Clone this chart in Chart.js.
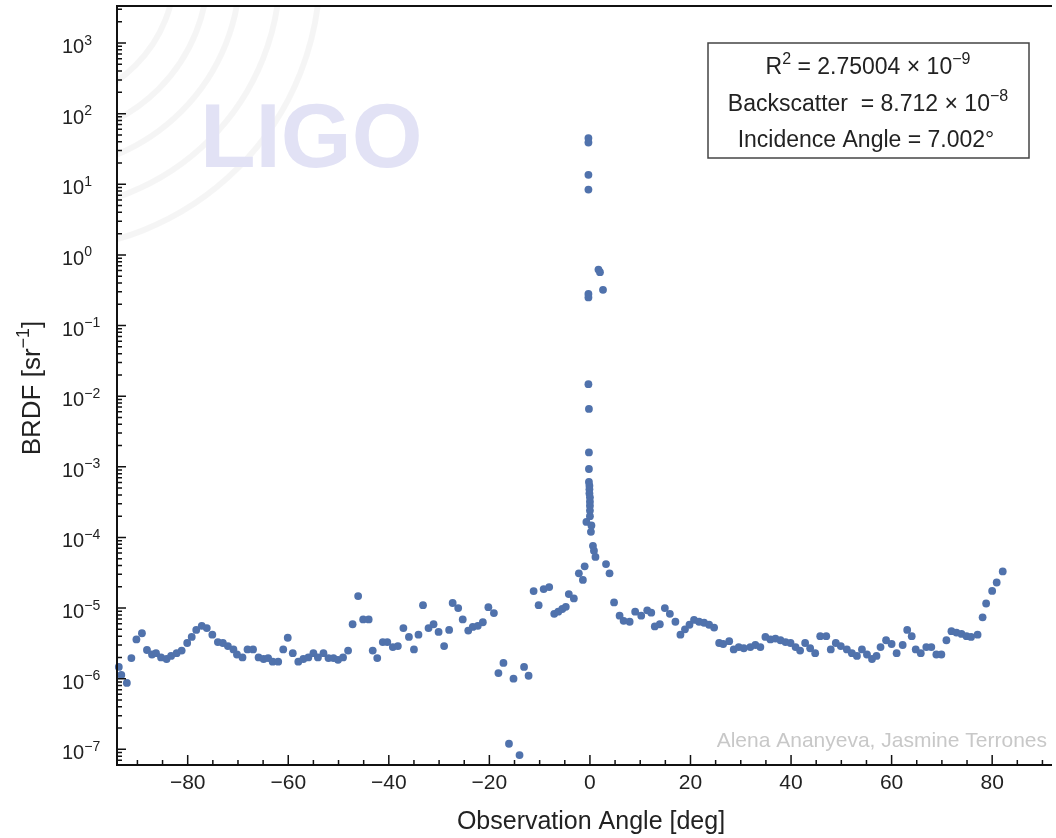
<!DOCTYPE html>
<html>
<head>
<meta charset="utf-8">
<script src="https://cdn.jsdelivr.net/npm/chart.js@4.4.1/dist/chart.umd.min.js"></script>
<style>
  body { margin: 0; background: #ffffff; }
  canvas { display: block; }
</style>
</head>
<body>
<canvas id="brdfGraf" width="1056" height="838"></canvas>
<script>
// Observation angle [deg] and BRDF [1/sr]
const vinklerVenstre = [-93.7, -93.2, -92.1, -91.2, -90.2, -89.1, -88.1, -87.1, -86.3, -85.3,
    -84.2, -83.3, -82.2, -81.2, -80.1, -79.2, -78.3, -77.2, -76.2, -75.1,
    -74.0, -73.0, -72.0, -70.9, -70.2, -69.1, -68.1, -67.0, -65.9, -64.9,
    -64.0, -63.1, -62.0, -61.0, -60.1, -59.1, -58.0, -57.0, -56.0, -55.0,
    -54.1, -53.0, -52.0, -51.0, -50.1, -49.1, -48.1, -47.2, -46.1, -45.1,
    -44.0, -43.2, -42.3, -41.2, -40.3, -39.2, -38.2, -37.1, -36.0, -35.0,
    -34.1, -33.2, -32.1, -31.1, -30.1, -29.0, -28.0, -27.3, -26.2, -25.3,
    -24.2, -23.3, -22.3, -21.3, -20.2, -19.1, -18.2, -17.2, -16.1, -15.2,
    -14.0, -13.1, -12.2, -11.2, -10.2, -9.2, -8.1, -7.1, -6.3, -5.5,
    -4.8, -4.2, -3.2, -2.2, -1.4, -1.05];
const brdfVenstre = [1.47e-6, 1.13e-6, 8.7e-7, 1.96e-6, 3.6e-6, 4.4e-6, 2.55e-6, 2.2e-6, 2.3e-6, 2.0e-6,
    1.9e-6, 2.1e-6, 2.3e-6, 2.5e-6, 3.2e-6, 3.9e-6, 4.9e-6, 5.6e-6, 5.2e-6, 4.2e-6,
    3.3e-6, 3.2e-6, 2.9e-6, 2.6e-6, 2.2e-6, 2.0e-6, 2.6e-6, 2.6e-6, 2.0e-6, 1.9e-6,
    1.96e-6, 1.74e-6, 1.74e-6, 2.6e-6, 3.8e-6, 2.3e-6, 1.74e-6, 1.9e-6, 2.0e-6, 2.3e-6,
    2.0e-6, 2.3e-6, 1.96e-6, 1.96e-6, 1.85e-6, 2.0e-6, 2.5e-6, 5.9e-6, 1.48e-5, 6.9e-6,
    6.9e-6, 2.5e-6, 1.96e-6, 3.3e-6, 3.3e-6, 2.8e-6, 2.9e-6, 5.2e-6, 3.9e-6, 2.6e-6,
    4.2e-6, 1.1e-5, 5.2e-6, 5.9e-6, 4.6e-6, 2.9e-6, 4.9e-6, 1.18e-5, 1.0e-5, 6.9e-6,
    4.8e-6, 5.4e-6, 5.6e-6, 6.3e-6, 1.03e-5, 8.5e-6, 1.2e-6, 1.67e-6, 1.2e-7, 1.0e-6,
    8.3e-8, 1.47e-6, 1.1e-6, 1.74e-5, 1.1e-5, 1.86e-5, 1.98e-5, 8.3e-6, 8.9e-6, 9.7e-6,
    1.04e-5, 1.58e-5, 1.37e-5, 3.1e-5, 2.5e-5, 3.9e-5];

// specular peak
const vinklerTopp = [-0.3, -0.3, -0.3, -0.3, 1.7, 2.0, -0.3, -0.3, 2.6, -0.3,
    -0.2, -0.2, -0.2, -0.2, -0.1, -0.1, -0.1, 0.0, 0.0, 0.0,
    0.0, 0.0, -0.7, 0.3, 0.2, 0.6, 0.8, 1.1];
const brdfTopp = [45, 39, 13.6, 8.4, 0.62, 0.57, 0.28, 0.25, 0.32, 0.0148,
    6.6e-3, 1.6e-3, 9.3e-4, 6.1e-4, 5.4e-4, 4.8e-4, 4.2e-4, 3.7e-4, 3.2e-4, 2.8e-4,
    2.4e-4, 2.0e-4, 1.66e-4, 1.48e-4, 1.2e-4, 7.6e-5, 6.5e-5, 5.3e-5];

const vinklerHoyre = [3.2, 3.9, 4.8, 5.9, 6.7, 7.9, 9.0, 10.2, 11.4, 12.2,
    12.9, 13.9, 14.9, 15.9, 17.0, 18.0, 18.9, 19.8, 20.7, 21.7,
    22.7, 23.7, 24.7, 25.7, 26.5, 27.7, 28.6, 29.6, 30.6, 31.9,
    32.9, 33.9, 34.9, 35.9, 36.9, 37.9, 38.9, 39.9, 40.9, 41.8,
    42.8, 43.8, 44.8, 45.8, 47.0, 47.9, 48.9, 49.9, 51.1, 52.1,
    53.1, 54.1, 55.1, 56.1, 57.0, 57.8, 58.9, 60.0, 61.0, 62.2,
    63.1, 64.0, 64.8, 65.8, 66.9, 67.9, 68.9, 69.9, 70.9, 71.9,
    72.9, 73.9, 74.9, 75.8, 77.1, 78.1, 78.8, 80.0, 80.9, 82.1];
const brdfHoyre = [4.2e-5, 3.1e-5, 1.2e-5, 7.8e-6, 6.6e-6, 6.4e-6, 8.9e-6, 7.8e-6, 9.3e-6, 8.6e-6,
    5.5e-6, 5.9e-6, 1.0e-5, 8.3e-6, 6.4e-6, 4.2e-6, 5.0e-6, 5.8e-6, 6.8e-6, 6.4e-6,
    6.2e-6, 5.8e-6, 5.3e-6, 3.2e-6, 3.1e-6, 3.4e-6, 2.6e-6, 2.8e-6, 2.7e-6, 2.8e-6,
    3.0e-6, 2.8e-6, 3.9e-6, 3.6e-6, 3.7e-6, 3.5e-6, 3.3e-6, 3.2e-6, 2.8e-6, 2.5e-6,
    3.2e-6, 2.7e-6, 2.3e-6, 4.0e-6, 4.0e-6, 2.6e-6, 3.2e-6, 2.9e-6, 2.6e-6, 2.3e-6,
    2.1e-6, 2.6e-6, 2.2e-6, 1.9e-6, 2.1e-6, 2.8e-6, 3.5e-6, 3.1e-6, 2.3e-6, 3.0e-6,
    4.9e-6, 4.0e-6, 2.6e-6, 2.3e-6, 2.8e-6, 2.8e-6, 2.2e-6, 2.2e-6, 3.5e-6, 4.7e-6,
    4.5e-6, 4.3e-6, 4.0e-6, 3.9e-6, 4.2e-6, 7.4e-6, 1.16e-5, 1.75e-5, 2.3e-5, 3.3e-5];

// tick labels
const xTikkVerdier = [-80, -60, -40, -20, 0, 20, 40, 60, 80];
const xTikkTekst = ['\u221280', '\u221260', '\u221240', '\u221220', '0', '20', '40', '60', '80'];
const yEksponenter = [3, 2, 1, 0, -1, -2, -3, -4, -5, -6, -7];

const xMin = -94.06, xMax = 91.9;
const yMin = 6.0e-8, yMax = 3340;

const font = '"Liberation Sans", Arial, sans-serif';
const punktFarge = '#5072ac';

function lagPunkter(xs, ys) {
    return xs.map((x, i) => ({ x: x, y: ys[i] }));
}
const allePunkter = lagPunkter(vinklerVenstre, brdfVenstre)
    .concat(lagPunkter(vinklerTopp, brdfTopp))
    .concat(lagPunkter(vinklerHoyre, brdfHoyre));

function minus(n) {
    return n < 0 ? '\u2212' + Math.abs(n) : String(n);
}

// text with superscripts: deler = [[tekst, erHevet], ...]
function tegnTekst(ctx, deler, x, y, size, align) {
    const sup = Math.round(size * 0.68);
    let total = 0;
    deler.forEach(d => {
        ctx.font = (d[1] ? sup : size) + 'px ' + font;
        total += ctx.measureText(d[0]).width;
    });
    let cx = align === 'center' ? x - total / 2 : (align === 'right' ? x - total : x);
    ctx.textAlign = 'left';
    ctx.textBaseline = 'alphabetic';
    deler.forEach(d => {
        ctx.font = (d[1] ? sup : size) + 'px ' + font;
        ctx.fillText(d[0], cx, d[1] ? y - size * 0.42 : y);
        cx += ctx.measureText(d[0]).width;
    });
}

const bakgrunn = {
    id: 'bakgrunn',
    beforeDatasetsDraw(chart) {
        const ctx = chart.ctx;
        const a = chart.chartArea;
        ctx.save();
        ctx.beginPath();
        ctx.rect(a.left, a.top, a.right - a.left, a.bottom - a.top);
        ctx.clip();
        // faint logo arcs
        ctx.strokeStyle = 'rgba(0,0,0,0.04)';
        ctx.lineWidth = 6;
        [135, 168, 200, 240, 280].forEach(r => {
            ctx.beginPath();
            ctx.arc(40, -30, r, 0, Math.PI);
            ctx.stroke();
        });
        ctx.fillStyle = '#e2e2f5';
        ctx.font = 'bold 91px ' + font;
        ctx.textAlign = 'left';
        ctx.textBaseline = 'alphabetic';
        ctx.fillText('LIGO', 200, 167);
        ctx.restore();
    }
};

const akser = {
    id: 'akser',
    afterDatasetsDraw(chart) {
        const ctx = chart.ctx;
        const a = chart.chartArea;
        const xs = chart.scales.x;
        const ys = chart.scales.y;
        ctx.save();

        // frame
        ctx.strokeStyle = '#111';
        ctx.lineWidth = 2;
        ctx.beginPath();
        ctx.moveTo(a.right, a.top);
        ctx.lineTo(a.left, a.top);
        ctx.lineTo(a.left, a.bottom);
        ctx.lineTo(a.right, a.bottom);
        ctx.stroke();

        // inward ticks
        ctx.lineWidth = 1.5;
        ctx.beginPath();
        for (let v = -90; v <= 90; v += 5) {
            const px = xs.getPixelForValue(v);
            const len = v % 20 === 0 ? 10 : 5;
            ctx.moveTo(px, a.bottom);
            ctx.lineTo(px, a.bottom - len);
        }
        for (let d = -8; d <= 3; d++) {
            for (let m = 1; m <= 9; m++) {
                const v = m * Math.pow(10, d);
                if (v < yMin || v > yMax) continue;
                const py = ys.getPixelForValue(v);
                const len = m === 1 ? 9 : 5;
                ctx.moveTo(a.left, py);
                ctx.lineTo(a.left + len, py);
            }
        }
        ctx.stroke();

        // tick labels
        ctx.fillStyle = '#222';
        xTikkVerdier.forEach((v, i) => {
            tegnTekst(ctx, [[xTikkTekst[i], false]], xs.getPixelForValue(v), 789, 21, 'center');
        });
        yEksponenter.forEach(e => {
            const py = ys.getPixelForValue(Math.pow(10, e));
            tegnTekst(ctx, [['10', false], [minus(e), true]], 62, py + 10, 20, 'left');
        });

        // axis titles
        ctx.fillStyle = '#222';
        tegnTekst(ctx, [['Observation Angle [deg]', false]], 591, 829, 25, 'center');
        ctx.save();
        ctx.translate(40, 388);
        ctx.rotate(-Math.PI / 2);
        tegnTekst(ctx, [['BRDF [sr', false], ['\u22121', true], [']', false]], 0, 0, 26, 'center');
        ctx.restore();

        // author note
        ctx.fillStyle = '#c8c8c8';
        tegnTekst(ctx, [['Alena Ananyeva, Jasmine Terrones', false]], 1047, 747, 21, 'right');

        // info box
        ctx.fillStyle = '#ffffff';
        ctx.fillRect(708, 43, 321, 115);
        ctx.strokeStyle = '#444';
        ctx.lineWidth = 1.5;
        ctx.strokeRect(708, 43, 321, 115);
        ctx.fillStyle = '#222';
        tegnTekst(ctx, [['R', false], ['2', true], [' = 2.75004 \u00d7 10', false], ['\u22129', true]], 868, 74, 23, 'center');
        tegnTekst(ctx, [['Backscatter  = 8.712 \u00d7 10', false], ['\u22128', true]], 868, 111, 23, 'center');
        tegnTekst(ctx, [['Incidence Angle = 7.002\u00b0', false]], 866, 147, 23, 'center');

        ctx.restore();
    }
};

const brdfGraf = new Chart(document.getElementById('brdfGraf'), {
    type: 'scatter',
    data: {
        datasets: [{
            label: 'BRDF',
            data: allePunkter,
            backgroundColor: punktFarge,
            borderWidth: 0,
            pointRadius: 3.9,
            clip: 6
        }]
    },
    options: {
        responsive: false,
        animation: false,
        layout: { padding: { left: 117, top: 6, right: 0, bottom: 73 } },
        plugins: {
            legend: { display: false },
            tooltip: { enabled: false }
        },
        scales: {
            x: { type: 'linear', min: xMin, max: xMax, display: false },
            y: { type: 'logarithmic', min: yMin, max: yMax, display: false }
        }
    },
    plugins: [bakgrunn, akser]
});
</script>
</body>
</html>
